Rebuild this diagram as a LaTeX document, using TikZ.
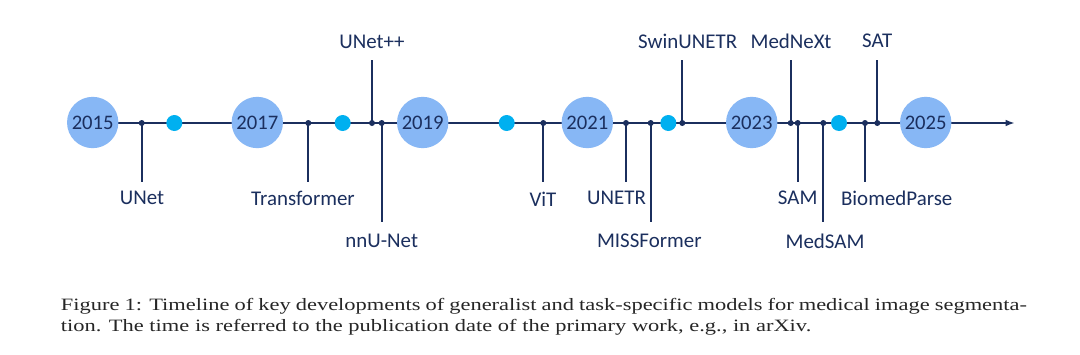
\documentclass[tikz,border=0pt]{standalone}
\usepackage{fontspec}
\setmainfont{Liberation Serif}
\newfontfamily\capfont[FakeStretch=1.295]{Liberation Serif}
\newfontfamily\lblfont{Carlito}
\usetikzlibrary{arrows.meta}
\definecolor{navy}{HTML}{1B2F5E}
\definecolor{yearblue}{HTML}{87B7F5}
\definecolor{dotcyan}{HTML}{00B0F0}
\begin{document}
\begin{tikzpicture}[x=0.75pt,y=-0.75pt,
  axis/.style={draw=navy,line width=1.5pt},
  stem/.style={draw=navy,line width=1.5pt},
  year/.style={circle,fill=yearblue,minimum size=38.5pt,inner sep=0pt,text=navy,font=\lblfont\fontsize{15.5}{18}\selectfont},
  mid/.style={circle,fill=dotcyan,minimum size=12pt,inner sep=0pt},
  junc/.style={circle,fill=navy,minimum size=4.5pt,inner sep=0pt},
  lbl/.style={text=navy,inner sep=0pt,font=\lblfont\fontsize{15.7}{18}\selectfont},
  captext/.style={inner sep=0pt,anchor=base west,text=black!85,font=\capfont\fontsize{13}{15}\selectfont}]
\useasboundingbox (0,0) rectangle (1080,354);
\fill[white] (0,0) rectangle (1080,354);
% axis
\coordinate (start) at (93,123);
\coordinate (end) at (1015,123);
\draw[axis,-{Latex[length=7pt,width=5pt]}] (start) -- (end);
% junctions
\node[junc] (jUNet) at (141.7,123) {};
\node[junc] (jTrans) at (308.3,123) {};
\node[junc] (jUNetpp) at (372,123) {};
\node[junc] (jnnU) at (381.7,123) {};
\node[junc] (jViT) at (543.3,123) {};
\node[junc] (jUNETR) at (626,123) {};
\node[junc] (jMISS) at (650.7,123) {};
\node[junc] (jSwin) at (682.3,123) {};
\node[junc] (jMedNeXt) at (790.7,123) {};
\node[junc] (jSAM) at (797.7,123) {};
\node[junc] (jMedSAM) at (823.3,123) {};
\node[junc] (jBiomed) at (865,123) {};
\node[junc] (jSAT) at (877.3,123) {};
% stem ends
\coordinate (eUNet) at (141.7,182);
\coordinate (eTrans) at (308.3,182);
\coordinate (eUNetpp) at (372,59.5);
\coordinate (ennU) at (381.7,222);
\coordinate (eViT) at (543.3,182);
\coordinate (eUNETR) at (626,182);
\coordinate (eMISS) at (650.7,222);
\coordinate (eSwin) at (682.3,59.5);
\coordinate (eMedNeXt) at (790.7,59.5);
\coordinate (eSAM) at (797.7,182);
\coordinate (eMedSAM) at (823.3,222);
\coordinate (eBiomed) at (865,182);
\coordinate (eSAT) at (877.3,59.5);
\foreach \n in {UNet,Trans,UNetpp,nnU,ViT,UNETR,MISS,Swin,MedNeXt,SAM,MedSAM,Biomed,SAT}
  \draw[stem] (j\n.center) -- (e\n);
% year circles and mid dots
\node[year] (y2015) at (92.7,122.5) {2015};
\node[year] (y2017) at (257.3,122.5) {2017};
\node[year] (y2019) at (422.7,122.5) {2019};
\node[year] (y2021) at (587.3,122.5) {2021};
\node[year] (y2023) at (751.7,122.5) {2023};
\node[year] (y2025) at (925.7,122.5) {2025};
\node[mid] (m1) at (174.3,123) {};
\node[mid] (m2) at (342.7,123) {};
\node[mid] (m3) at (506.7,123) {};
\node[mid] (m4) at (668.3,123) {};
\node[mid] (m5) at (839,123) {};
% labels
\node[lbl] (lUNet) at (142,198) {UNet};
\node[lbl] (lTrans) at (303,198) {Transformer};
\node[lbl] (lUNetpp) at (372,42) {UNet++};
\node[lbl] (lnnU) at (381.7,241) {nnU-Net};
\node[lbl] (lViT) at (543,199) {ViT};
\node[lbl] (lUNETR) at (616.5,198) {UNETR};
\node[lbl] (lMISS) at (649.3,241) {MISSFormer};
\node[lbl] (lSwin) at (687.7,41) {SwinUNETR};
\node[lbl] (lMedNeXt) at (791,41) {MedNeXt};
\node[lbl] (lSAM) at (797.7,198) {SAM};
\node[lbl] (lMedSAM) at (825,241) {MedSAM};
\node[lbl] (lBiomed) at (896.7,198) {BiomedParse};
\node[lbl] (lSAT) at (877.3,41) {SAT};
% caption
\node[captext] (cap1) at (60.7,310) {\hbox to 724.5pt{Figure 1: Timeline of key developments of generalist and task-specific models for medical image segmenta-}};
\node[captext] (cap2) at (60.7,331) {tion. The time is referred to the publication date of the primary work, e.g., in arXiv.};
\end{tikzpicture}
\end{document}
